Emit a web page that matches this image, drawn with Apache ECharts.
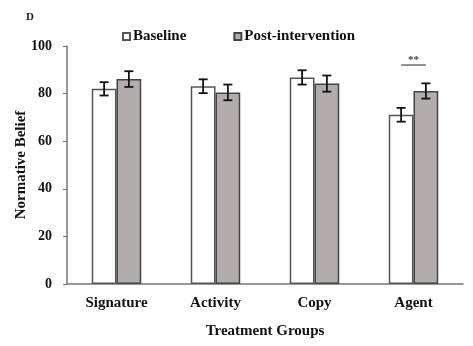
<!DOCTYPE html>
<html><head><meta charset="utf-8">
<script src="https://cdn.jsdelivr.net/npm/echarts@6/dist/echarts.min.js"></script>
<style>html,body{margin:0;padding:0;background:#fff}#c{width:473px;height:346px}</style>
</head><body><div id="c"></div>
<script>
const categories = ['Signature', 'Activity', 'Copy', 'Agent'];
const baseline = [82, 83.1, 86.8, 71.1];
const post = [86.1, 80.5, 84.2, 81.1];
const baselineErr = [2.8, 2.9, 3.0, 2.9];
const postErr = [3.3, 3.3, 3.4, 3.2];
const sigMarks = [[3, 92, '**']];
const yTicks = [0, 20, 40, 60, 80, 100];

const FONT = '"Liberation Serif", "Times New Roman", serif';
const chart = echarts.init(document.getElementById('c'));

function errSeries(vals, errs, side) {
  return {
    type: 'custom', z: 10, silent: true,
    data: vals.map((v, i) => [i, v, errs[i]]),
    renderItem: function (params, api) {
      const i = api.value(0), v = api.value(1), e = api.value(2);
      const cw = api.size([1, 0])[0];
      const c = api.coord([i, v]);
      const x = c[0] + side * cw * 0.125;
      const top = api.coord([i, v + e])[1];
      const bot = api.coord([i, v - e])[1];
      const hw = 4.5;
      const st = { stroke: '#111', lineWidth: 1.8 };
      return { type: 'group', children: [
        { type: 'line', shape: { x1: x, y1: top, x2: x, y2: bot }, style: st },
        { type: 'line', shape: { x1: x - hw, y1: top, x2: x + hw, y2: top }, style: st },
        { type: 'line', shape: { x1: x - hw, y1: bot, x2: x + hw, y2: bot }, style: st }
      ]};
    }
  };
}

chart.setOption({
  animation: false,
  textStyle: { fontFamily: FONT },
  title: { text: 'D', left: 21, top: 7, textStyle: { fontFamily: FONT, fontWeight: 'bold', fontSize: 11, color: '#222' } },
  legend: {
    data: ['Baseline', 'Post-intervention'],
    top: 24, left: 117, itemGap: 47, itemWidth: 7, itemHeight: 7,
    icon: 'rect',
    textStyle: { fontFamily: FONT, fontWeight: 'bold', fontSize: 15, color: '#111', padding: [0, 0, 0, -2] }
  },
  grid: { left: 67, right: 10, top: 46, bottom: 62, containLabel: false },
  xAxis: {
    type: 'category', data: categories,
    name: 'Treatment Groups', nameLocation: 'middle', nameGap: 40,
    nameTextStyle: { fontFamily: FONT, fontWeight: 'bold', fontSize: 15, color: '#111' },
    axisLine: { lineStyle: { color: '#777', width: 1.5 } },
    axisTick: { show: false },
    axisLabel: { fontFamily: FONT, fontWeight: 'bold', fontSize: 15, color: '#111', margin: 12 }
  },
  yAxis: {
    type: 'value', min: 0, max: 100, interval: 20,
    name: 'Normative Belief', nameLocation: 'middle', nameGap: 38, nameMoveOverlap: false,
    nameTextStyle: { fontFamily: FONT, fontWeight: 'bold', fontSize: 15, color: '#111' },
    axisLine: { show: true, lineStyle: { color: '#777', width: 1.5 } },
    axisTick: { show: true, length: 4, lineStyle: { color: '#777', width: 1.2 } },
    splitLine: { show: false },
    axisLabel: { fontFamily: FONT, fontWeight: 'bold', fontSize: 14, color: '#111', margin: 15,
      formatter: v => yTicks.includes(v) ? String(v) : '' }
  },
  series: [
    { name: 'Baseline', type: 'bar', data: baseline, barGap: '0%', barCategoryGap: '50%',
      itemStyle: { color: '#ffffff', borderColor: '#555', borderWidth: 1.5 } },
    { name: 'Post-intervention', type: 'bar', data: post,
      itemStyle: { color: '#b1adac', borderColor: '#444', borderWidth: 1.5 } },
    errSeries(baseline, baselineErr, -1),
    errSeries(post, postErr, 1),
    { type: 'custom', z: 10, silent: true,
      data: sigMarks,
      renderItem: function (params, api) {
        const i = api.value(0), v = api.value(1);
        const cw = api.size([1, 0])[0];
        const c = api.coord([i, v]);
        const x1 = c[0] - cw * 0.125, x2 = c[0] + cw * 0.125;
        return { type: 'group', children: [
          { type: 'line', shape: { x1: x1, y1: c[1], x2: x2, y2: c[1] }, style: { stroke: '#444', lineWidth: 1.2 } },
          { type: 'text', x: c[0], y: c[1] + 1, style: { text: sigMarks[params.dataIndex][2], fill: '#444',
            font: 'bold 11px ' + FONT, align: 'center', verticalAlign: 'bottom' } }
        ]};
      }
    }
  ]
});
</script></body></html>
